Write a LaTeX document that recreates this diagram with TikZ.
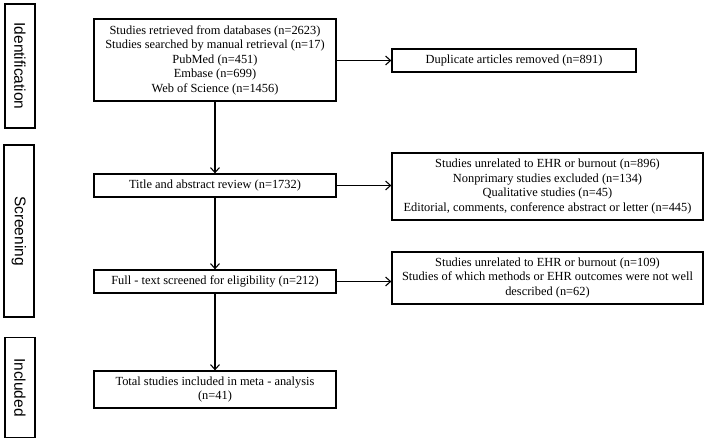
\documentclass[tikz,border=0pt]{standalone}
\usepackage{fontspec}
\setmainfont{Liberation Serif}
\newfontfamily\phasefont{Liberation Sans}
\usepackage{tikz}
\usetikzlibrary{arrows.meta, positioning, calc}

\begin{document}
\begin{tikzpicture}[
    x=1pt, y=-1pt,
    phase/.style={rectangle, draw, line width=1.3pt, rotate=-90,
                 minimum height=30pt, inner sep=0pt,
                 font=\phasefont\fontsize{15.5}{17}\selectfont},
    stage/.style={rectangle, draw, line width=1.3pt, minimum width=242pt,
                 align=center, inner sep=2pt,
                 font=\fontsize{12.4}{14.5}\selectfont},
    removed/.style={rectangle, draw, line width=1.3pt,
                 align=center, inner sep=2pt,
                 font=\fontsize{12.4}{14.5}\selectfont},
    arrow/.style={-{Straight Barb[length=5pt,width=9pt]}, line width=1.1pt}
]
\useasboundingbox (0,0) rectangle (708,441);

% Phase labels
\node[phase, minimum width=124pt] at (20,66) (identification) {Identification};
\node[phase, minimum width=172pt] at (19,231) (screening) {Screening};
\node[phase, minimum width=100pt] at (20,387.5) (included) {Included};

% Main flow
\node[stage, minimum height=82pt] at (215,60) (records) {Studies retrieved from databases (n=2623)\\Studies searched by manual retrieval (n=17)\\PubMed (n=451)\\Embase (n=699)\\Web of Science (n=1456)};
\node[stage, minimum height=23pt] at (215,185.5) (abstract) {Title and abstract review (n=1732)};
\node[stage, minimum height=23pt] at (215,281.5) (fulltext) {Full - text screened for eligibility (n=212)};
\node[stage, minimum height=37pt] at (215,389.5) (total) {Total studies included in meta - analysis\\(n=41)};

% Exclusions
\node[removed, minimum width=244pt, minimum height=23pt] at (514,60.5) (duplicates) {Duplicate articles removed (n=891)};
\node[removed, minimum width=311pt, minimum height=67pt] at (547.5,186.5) (excluded-abstract) {Studies unrelated to EHR or burnout (n=896)\\Nonprimary studies excluded (n=134)\\Qualitative studies (n=45)\\Editorial, comments, conference abstract or letter (n=445)};
\node[removed, minimum width=311pt, minimum height=52pt] at (547.5,278) (excluded-fulltext) {Studies unrelated to EHR or burnout (n=109)\\Studies of which methods or EHR outcomes were not well\\described (n=62)};

% Arrows
\draw[arrow] (records) -- (abstract);
\draw[arrow] (abstract) -- (fulltext);
\draw[arrow] (fulltext) -- (total);

\draw[arrow] (records.east |- duplicates.west) -- (duplicates.west);
\draw[arrow] (abstract.east) -- (abstract.east -| excluded-abstract.west);
\draw[arrow] (fulltext.east) -- (fulltext.east -| excluded-fulltext.west);

\end{tikzpicture}
\end{document}
